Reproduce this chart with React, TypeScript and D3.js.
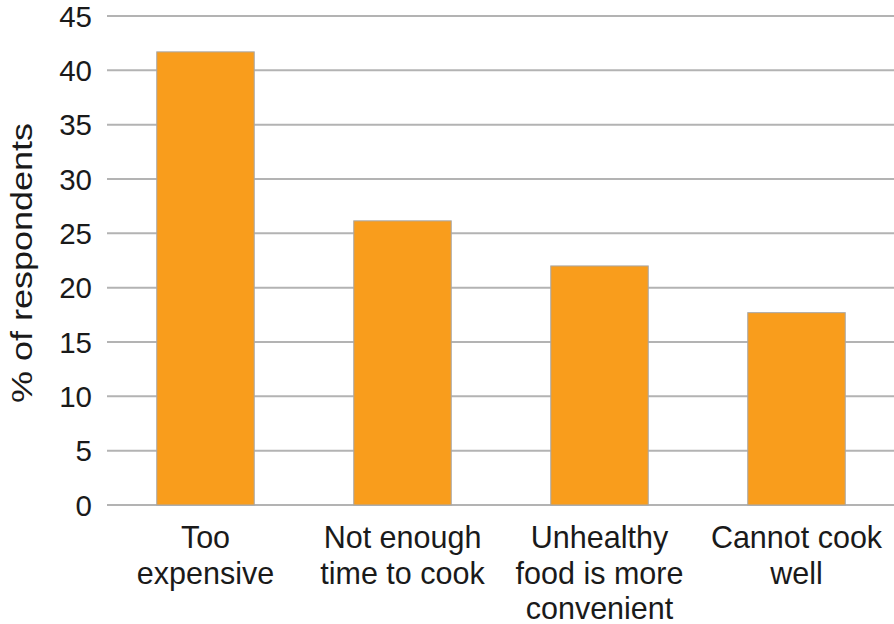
import React, { useEffect, useRef } from "react";
import * as d3 from "d3";

const categories: string[][] = [
  ["Too", "expensive"],
  ["Not enough", "time to cook"],
  ["Unhealthy", "food is more", "convenient"],
  ["Cannot cook", "well"],
];
const values: number[] = [41.7, 26.15, 22.0, 17.7];
const yTicks: number[] = [0, 5, 10, 15, 20, 25, 30, 35, 40, 45];
const yTitle = "% of respondents";

const W = 894;
const H = 624;
const M = { left: 107, right: 0, top: 16, bottom: 119 };

export default function App() {
  const ref = useRef<SVGSVGElement>(null);
  useEffect(() => {
    document.body.style.margin = "0";
    const svg = d3.select(ref.current);
    svg.selectAll("*").remove();
    const x = d3
      .scaleBand<number>()
      .domain(d3.range(values.length))
      .range([M.left, W - M.right + 1])
      .paddingInner(0.5)
      .paddingOuter(0.25);
    const y = d3.scaleLinear().domain([0, 45]).range([H - M.bottom, M.top]);
    const font = "'Liberation Sans', Arial, sans-serif";

    svg
      .append("g")
      .selectAll("line")
      .data(yTicks)
      .join("line")
      .attr("x1", M.left)
      .attr("x2", W)
      .attr("y1", (d) => y(d))
      .attr("y2", (d) => y(d))
      .attr("stroke", "#b3b3b3")
      .attr("stroke-width", 2);

    svg
      .append("g")
      .selectAll("text")
      .data(yTicks)
      .join("text")
      .attr("x", 92)
      .attr("y", (d) => y(d))
      .attr("dy", "0.36em")
      .attr("text-anchor", "end")
      .attr("font-family", font)
      .attr("font-size", 29.5)
      .attr("fill", "#1a1a1a")
      .text((d) => String(d));

    svg
      .append("g")
      .selectAll("rect")
      .data(values)
      .join("rect")
      .attr("x", (_, i) => x(i)! + 0.5)
      .attr("y", (d) => y(d))
      .attr("width", x.bandwidth() - 1)
      .attr("height", (d) => y(0) - y(d))
      .attr("fill", "#f99d1c")
      .attr("stroke", "#a8a8a8")
      .attr("stroke-width", 1);

    const lab = svg.append("g");
    categories.forEach((lines, i) => {
      const cx = x(i)! + x.bandwidth() / 2;
      lines.forEach((ln, j) => {
        lab
          .append("text")
          .attr("x", cx)
          .attr("y", 548 + j * 35.5)
          .attr("text-anchor", "middle")
          .attr("font-family", font)
          .attr("font-size", 30.5)
          .attr("fill", "#1a1a1a")
          .text(ln);
      });
    });

    svg
      .append("text")
      .attr("transform", `translate(32,263) rotate(-90)`)
      .attr("text-anchor", "middle")
      .attr("font-family", font)
      .attr("font-size", 29)
      .attr("textLength", 280)
      .attr("lengthAdjust", "spacingAndGlyphs")
      .attr("fill", "#1a1a1a")
      .text(yTitle);
  }, []);
  return <svg ref={ref} width={W} height={H} style={{ display: "block" }} />;
}
